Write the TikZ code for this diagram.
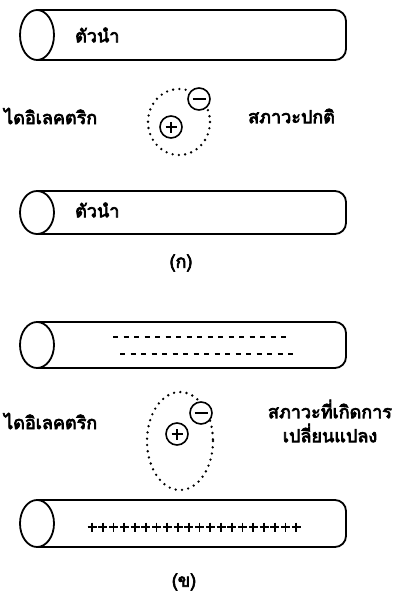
\documentclass[tikz,border=0pt]{standalone}
\usepackage{fontspec}
\setmainfont[Script=Thai, AutoFakeBold=4]{Loma}
\begin{document}
\begin{tikzpicture}[x=1pt,y=-1pt,
  outline/.style={line width=1.8pt, black},
  cloud/.style={line width=2.6pt, line cap=round, dash pattern=on 0pt off 6.3pt},
  charge/.style={circle, draw, fill=white, line width=1.6pt, minimum size=22pt, inner sep=0pt},
  label/.style={font=\bfseries\fontsize{18}{20}\selectfont, inner sep=0pt},
  sheet/.style={line width=2.2pt, dash pattern=on 5pt off 5.5pt}]
\useasboundingbox (0,0) rectangle (392,595);

% conductor tube: left end ellipse, body with rounded right end
\newcommand\tube[2]{%
  \draw[outline, rounded corners=11pt] (37,#1) -- (346,#1) -- (346,#2) -- (37,#2);
  \draw[outline] (37,{(#1+#2)/2}) ellipse [x radius=17, y radius={(#2-#1)/2}];
}
% plus sign inside a charge circle
\newcommand\plussign[1]{%
  \draw[line width=1.6pt] ([xshift=-5.5pt]#1.center) -- ([xshift=5.5pt]#1.center)
    ([yshift=-5.5pt]#1.center) -- ([yshift=5.5pt]#1.center);
}
\newcommand\minussign[1]{%
  \draw[line width=1.6pt] ([xshift=-6.5pt]#1.center) -- ([xshift=6.5pt]#1.center);
}

% ---- (a) normal state ----
\tube{10}{60}
\node[label, anchor=west] (cond1) at (75,35) {ตัวนำ};
\node[label, anchor=west] (diel1) at (4,116) {ไดอิเลคตริก};
\node[label, anchor=west] (state1) at (248,116) {สภาวะปกติ};
\draw[cloud] (179,122) ellipse [x radius=31, y radius=33];
\node[charge] (p1) at (171,127) {};
\plussign{p1}
\node[charge] (m1) at (199,99) {};
\minussign{m1}
\tube{191}{234}
\node[label, anchor=west] (cond2) at (75,210) {ตัวนำ};
\node[label] (capa) at (181,263) {(ก)};

% ---- (b) polarised state ----
\tube{322}{368}
\draw[sheet] (113,337) -- (290,337);
\draw[sheet] (120,354) -- (296,354);
\node[label, anchor=west] (diel2) at (4,421) {ไดอิเลคตริก};
\node[label, align=center] (state2) at (330,421) {สภาวะที่เกิดการ\\[4pt]เปลี่ยนแปลง};
\draw[cloud] (180,441) ellipse [x radius=33, y radius=49];
\node[charge] (p2) at (177,434) {};
\plussign{p2}
\node[charge] (m2) at (201,413) {};
\minussign{m2}
\tube{500}{547}
% row of induced positive charges
\foreach \i in {0,...,19}
  \draw[line width=1.6pt] ({92+10.75*\i-4.5},527) -- ({92+10.75*\i+4.5},527)
    ({92+10.75*\i},522.5) -- ({92+10.75*\i},531.5);
\node[label] (capb) at (184,582) {(ข)};
\end{tikzpicture}
\end{document}
